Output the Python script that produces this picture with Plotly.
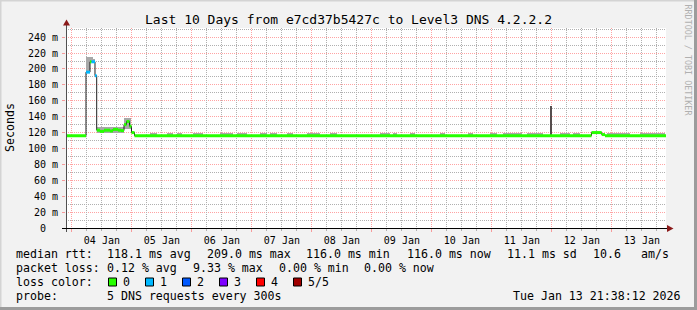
import plotly.graph_objects as go
from datetime import datetime, timedelta

# ---------------- data ----------------
T_START = "2026-01-03 21:38:12"
T_END = "2026-01-13 21:38:12"

# median rtt step series (value holds until next time), loss count per step
med_time = ["2026-01-03 21:38:12", "2026-01-04 05:38", "2026-01-04 07:14", "2026-01-04 07:50",
            "2026-01-04 09:14", "2026-01-04 09:55", "2026-01-04 11:14", "2026-01-04 12:50",
            "2026-01-04 15:14", "2026-01-04 16:26", "2026-01-04 18:26", "2026-01-04 19:38",
            "2026-01-04 20:50", "2026-01-04 21:50", "2026-01-04 23:02", "2026-01-04 23:50",
            "2026-01-05 01:02", "2026-01-12 15:50", "2026-01-12 19:55", "2026-01-12 21:14",
            "2026-01-13 21:38:12"]
med_ms = [116, 196, 209, 209, 191.5, 123, 121.5, 123, 122, 124, 123, 122.5,
          130, 134, 128, 120, 116, 120, 117.5, 116, 116]
med_loss = [0, 1, 0, 1, 1, 0, 0, 0, 0, 0, 0, 0, 0, 0, 0, 0, 0, 0, 0, 0, 0]

# smoke (ping spread) segments
smoke_start = ["2026-01-04 05:38", "2026-01-04 07:14", "2026-01-04 08:26", "2026-01-04 09:55",
               "2026-01-04 20:50",
               "2026-01-05 07:14", "2026-01-05 14:02", "2026-01-05 18:02", "2026-01-06 00:26",
               "2026-01-06 11:14", "2026-01-06 18:02", "2026-01-07 03:14", "2026-01-07 07:14",
               "2026-01-07 14:02", "2026-01-07 22:02", "2026-01-08 07:14", "2026-01-09 03:14",
               "2026-01-09 08:26", "2026-01-09 15:14", "2026-01-10 03:14", "2026-01-10 14:26",
               "2026-01-10 23:14", "2026-01-11 04:26", "2026-01-11 14:02", "2026-01-12 03:14",
               "2026-01-12 08:26", "2026-01-12 22:02", "2026-01-13 11:14"]
smoke_end = ["2026-01-04 07:14", "2026-01-04 08:26", "2026-01-04 09:14", "2026-01-04 20:50",
             "2026-01-04 23:30",
             "2026-01-05 10:02", "2026-01-05 16:26", "2026-01-05 20:02", "2026-01-06 04:26",
             "2026-01-06 16:26", "2026-01-06 22:02", "2026-01-07 06:02", "2026-01-07 10:02",
             "2026-01-07 16:26", "2026-01-08 03:14", "2026-01-08 10:02", "2026-01-09 07:14",
             "2026-01-09 10:02", "2026-01-09 17:14", "2026-01-10 05:14", "2026-01-10 16:26",
             "2026-01-11 02:02", "2026-01-11 12:02", "2026-01-11 20:26", "2026-01-12 07:14",
             "2026-01-12 11:14", "2026-01-13 07:14", "2026-01-13 21:14"]
smoke_lo = [196, 209, 209, 120, 124,
            116, 116, 116, 116, 116, 116, 116, 116, 116, 116, 116, 116,
            116, 116, 116, 116, 116, 116, 116, 116, 116, 116, 116]
smoke_hi = [215, 215, 212, 126.5, 138,
            119.4, 119.4, 119.4, 119.4, 119.4, 119.4, 119.4, 119.4, 119.4, 119.4, 119.4, 119.4,
            119.8, 119.4, 119.4, 119.4, 119.4, 119.4, 119.4, 119.4, 119.4, 119.4, 119.4]

# single outlier column near 11 Jan
spike_start = ["2026-01-11 23:07"]
spike_end = ["2026-01-11 23:55"]
spike_lo = [116]
spike_hi = [153]

y_tick_vals = [0, 20, 40, 60, 80, 100, 120, 140, 160, 180, 200, 220, 240]
y_tick_text = ["0\u00a0\u00a0", "20 m", "40 m", "60 m", "80 m", "100 m", "120 m", "140 m",
               "160 m", "180 m", "200 m", "220 m", "240 m"]
y_minor_vals = [10, 30, 50, 70, 90, 110, 130, 150, 170, 190, 210, 230, 250]

title = "Last 10 Days from e7cd37b5427c to Level3 DNS 4.2.2.2"

rtt_label = "median rtt:"
rtt_items = ["118.1 ms avg", "209.0 ms max", "116.0 ms min", "116.0 ms now", "11.1 ms sd", "10.6", "am/s"]
loss_label = "packet loss:"
loss_items = ["0.12 % avg", "9.33 % max", "0.00 % min", "0.00 % now"]
lc_label = "loss color:"
lc_names = ["0", "1", "2", "3", "4", "5/5"]
lc_colors = ["#26ff00", "#00b8ff", "#0059ff", "#7e00ff", "#ff0000", "#a00000"]
probe_label = "probe:"
probe_text = "5 DNS requests every 300s"
stamp = "Tue Jan 13 21:38:12 2026"
watermark = "RRDTOOL / TOBI OETIKER"

# ---------------- layout geometry (pixels) ----------------
W, H = 697, 310
PL, PR, PT, PB = 66, 666, 28, 228
FONT = "DejaVu Sans Mono"


def px(x):
    return (x - PL) / (PR - PL)


def py(y):
    return (PB - y) / (PB - PT)


def dt(s):
    for f in ("%Y-%m-%d %H:%M:%S", "%Y-%m-%d %H:%M"):
        try:
            return datetime.strptime(s, f)
        except ValueError:
            pass


fig = go.Figure()


def add_bars(starts, ends, lo, hi, color):
    xs, ws, bs, ys = [], [], [], []
    for s, e, a, b in zip(starts, ends, lo, hi):
        s_, e_ = dt(s), dt(e)
        xs.append(s_ + (e_ - s_) / 2)
        ws.append((e_ - s_).total_seconds() * 1000)
        bs.append(a)
        ys.append(b - a)
    fig.add_trace(go.Bar(x=xs, y=ys, base=bs, width=ws, marker=dict(color=color, line=dict(width=0)),
                         hoverinfo="skip"))


add_bars(smoke_start, smoke_end, smoke_lo, smoke_hi, "#a8a8a8")
add_bars(spike_start, spike_end, spike_lo, spike_hi, "#564e4e")

# thin dark median step line
fig.add_trace(go.Scatter(x=[dt(t) for t in med_time], y=med_ms, mode="lines",
                         line=dict(color="#202020", width=1, shape="hv"), hoverinfo="skip"))

# coloured horizontal median segments by loss
for lv, col in enumerate(lc_colors):
    xs, ys = [], []
    for i in range(len(med_time) - 1):
        if med_loss[i] == lv:
            xs += [dt(med_time[i]), dt(med_time[i + 1]), None]
            ys += [med_ms[i], med_ms[i], None]
    if xs:
        fig.add_trace(go.Scatter(x=xs, y=ys, mode="lines", line=dict(color=col, width=3),
                                 hoverinfo="skip"))

# 6-hour minor grid positions (skip midnights, which carry the major grid)
minor_x = []
g = datetime(2026, 1, 3, 0, 0)
while g <= dt(T_END):
    if g >= dt(T_START) and g.hour != 0:
        minor_x.append(g)
    g += timedelta(hours=6)

RED_GRID = "rgba(255,0,0,0.36)"
GRAY_GRID = "#b0b0b0"
DASH = "1px,1px"

fig.update_layout(
    width=W, height=H,
    margin=dict(l=PL, r=W - PR, t=PT, b=H - PB, pad=0),
    paper_bgcolor="#f2f2f2", plot_bgcolor="#ffffff",
    showlegend=False, bargap=0, barmode="overlay",
    font=dict(family=FONT, color="#000000"),
    xaxis2=dict(type="date", overlaying="x", range=[dt(T_START), dt(T_END)], tickvals=minor_x,
                showgrid=True, gridcolor=GRAY_GRID, griddash=DASH,
                showticklabels=False, ticks="outside", ticklen=2, tickcolor=GRAY_GRID,
                showline=False, zeroline=False, fixedrange=True),
    yaxis2=dict(overlaying="y", range=[0, 251.5], tickvals=y_minor_vals, showgrid=True,
                gridcolor=GRAY_GRID, griddash=DASH, showticklabels=False, ticks="",
                showline=False, zeroline=False, fixedrange=True),
    xaxis=dict(type="date", range=[dt(T_START), dt(T_END)], tick0="2026-01-04", dtick=86400000,
               ticklabelmode="period", tickformat="%d %b", showgrid=True, gridcolor=RED_GRID,
               griddash=DASH, gridwidth=1, ticks="outside", ticklen=3, tickcolor=RED_GRID,
               tickfont=dict(family=FONT, size=10, color="#000"), showline=False, zeroline=False,
               fixedrange=True),
    yaxis=dict(range=[0, 251.5], tickvals=y_tick_vals, ticktext=y_tick_text, showgrid=True,
               gridcolor=RED_GRID, griddash=DASH, ticks="outside", ticklen=3, tickcolor=RED_GRID,
               tickfont=dict(family=FONT, size=10, color="#000"), showline=False, zeroline=False,
               ticklabelstandoff=2, fixedrange=True),
)

# invisible trace to activate the overlay grid axes
fig.add_trace(go.Scatter(x=[dt(T_START)], y=[0], xaxis="x2", yaxis="y2", mode="markers",
                         marker=dict(opacity=0), hoverinfo="skip"))

shapes = []
# axes lines
shapes.append(dict(type="line", xref="paper", yref="paper", x0=px(66.5), x1=px(66.5), y0=py(232), y1=py(22),
                   line=dict(color="#505050", width=1)))
shapes.append(dict(type="line", xref="paper", yref="paper", x0=px(62), x1=px(669), y0=py(228.5), y1=py(228.5),
                   line=dict(color="#000000", width=1)))
# arrows
shapes.append(dict(type="path", xref="paper", yref="paper",
                   path=f"M {px(66.5)} {py(19.5)} L {px(63)} {py(25.5)} L {px(70)} {py(25.5)} Z",
                   fillcolor="#8b1a1a", line=dict(width=0)))
shapes.append(dict(type="path", xref="paper", yref="paper",
                   path=f"M {px(673.5)} {py(228.5)} L {px(667)} {py(225)} L {px(667)} {py(232)} Z",
                   fillcolor="#8b1a1a", line=dict(width=0)))
# frame
shapes.append(dict(type="rect", xref="paper", yref="paper", x0=px(0), x1=px(697), y0=py(0), y1=py(1.5),
                   fillcolor="#d4d4d4", line=dict(width=0)))
shapes.append(dict(type="rect", xref="paper", yref="paper", x0=px(0), x1=px(1.5), y0=py(0), y1=py(310),
                   fillcolor="#d4d4d4", line=dict(width=0)))
shapes.append(dict(type="rect", xref="paper", yref="paper", x0=px(694), x1=px(697), y0=py(0), y1=py(310),
                   fillcolor="#9c9c9c", line=dict(width=0)))
shapes.append(dict(type="rect", xref="paper", yref="paper", x0=px(0), x1=px(697), y0=py(307), y1=py(310),
                   fillcolor="#9c9c9c", line=dict(width=0)))

ann = []


def text(s, x, y, size=11.6, anchor="left", color="#000", angle=0):
    ann.append(dict(text=s, xref="paper", yref="paper", x=px(x), y=py(y), xanchor=anchor,
                    yanchor="middle", showarrow=False, borderpad=0, borderwidth=0, textangle=angle,
                    font=dict(family=FONT, size=size, color=color)))


text(title, 348.5, 19, size=13, anchor="center")
text("Seconds", 10, 128, size=11.6, anchor="center", angle=-90)
text(watermark, 687.5, 60, size=8.4, anchor="center", color="#b0b0b0", angle=90)

LEG_X = 15.5
VAL_X = 106.6
text(rtt_label, LEG_X, 254.3)
for s, x in zip(rtt_items, [VAL_X, 206.6, 306, 407, 507, 592.6, 641]):
    text(s, x, 254.3)
text(loss_label, LEG_X, 268.3)
for s, x in zip(loss_items, [VAL_X, 192.6, 278.6, 364.3]):
    text(s, x, 268.3)
text(lc_label, LEG_X, 282)
for i, (nm, col) in enumerate(zip(lc_names, lc_colors)):
    bx = 108.5 + 37 * i
    shapes.append(dict(type="rect", xref="paper", yref="paper", x0=px(bx), x1=px(bx + 8),
                       y0=py(278), y1=py(286), fillcolor=col, line=dict(color="#000", width=1)))
    text(nm, bx + 14.3, 282)
text(probe_label, LEG_X, 296)
text(probe_text, VAL_X, 296)
text(stamp, 680.5, 296, anchor="right")

fig.update_layout(shapes=shapes, annotations=ann)
fig.write_html("out.html")
